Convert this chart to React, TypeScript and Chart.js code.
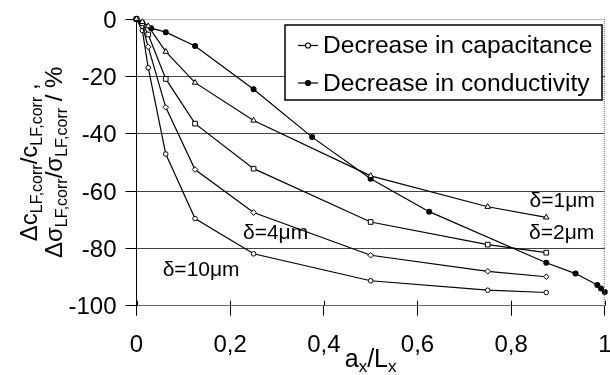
import React, { useEffect, useRef } from "react";
import { Chart, registerables } from "chart.js";

Chart.register(...registerables);

// ---- data ----
const CAP_X = [0, 0.0125, 0.025, 0.0625, 0.125, 0.25, 0.5, 0.75, 0.875];
const CAP_1UM = [0, -1, -2.5, -11.4, -22.2, -35.4, -54.7, -65.5, -69.2];
const CAP_2UM = [0, -1.5, -5.4, -20.9, -36.5, -52.2, -70.8, -78.7, -81.5];
const CAP_4UM = [0, -2.5, -9.7, -30.8, -52.5, -67.5, -82.4, -88, -89.9];
const CAP_10UM = [0, -4, -17, -47.1, -69.6, -81.9, -91.3, -94.6, -95.4];

const COND_X = [0, 0.03125, 0.0625, 0.125, 0.25, 0.375, 0.5, 0.625, 0.875, 0.9375, 0.984, 0.992, 1.0];
const COND_Y = [0, -3.2, -4.6, -9.4, -24.5, -41.2, -55.7, -67.2, -85, -88.8, -92.8, -94, -95.2];

const X_TICKS = [0, 0.2, 0.4, 0.6, 0.8, 1];
const X_TICK_LABELS = ["0", "0,2", "0,4", "0,6", "0,8", "1"];
const Y_TICKS = [0, -20, -40, -60, -80, -100];
const Y_TICK_LABELS = ["0", "-20", "-40", "-60", "-80", "-100"];

const LEGEND_LABELS = ["Decrease in capacitance", "Decrease in conductivity"];

const DELTA_LABELS = ["δ=1μm", "δ=2μm", "δ=4μm", "δ=10μm"];
const DELTA_LABEL_X = [0.909, 0.908, 0.297, 0.138];
const DELTA_LABEL_Y = [-63.5, -74.6, -74.6, -87.6];

const FONT = "'Liberation Sans', Arial, Helvetica, sans-serif";

type Seg = { t: string; sub?: boolean };

function segWidth(ctx: CanvasRenderingContext2D, segs: Seg[], size: number, subSize: number) {
  let w = 0;
  for (const s of segs) {
    ctx.font = `${s.sub ? subSize : size}px ${FONT}`;
    w += ctx.measureText(s.t).width;
  }
  return w;
}

function drawRich(ctx: CanvasRenderingContext2D, segs: Seg[], cx: number, baseline: number, size: number, subSize: number, subOff: number) {
  const w = segWidth(ctx, segs, size, subSize);
  let x = cx - w / 2;
  ctx.textAlign = "left";
  ctx.textBaseline = "alphabetic";
  for (const s of segs) {
    ctx.font = `${s.sub ? subSize : size}px ${FONT}`;
    ctx.fillText(s.t, x, baseline + (s.sub ? subOff : 0));
    x += ctx.measureText(s.t).width;
  }
}

const decorPlugin = {
  id: "decor",
  afterDatasetsDraw(chart: any) {
    const ctx: CanvasRenderingContext2D = chart.ctx;
    const { left, right, top, bottom } = chart.chartArea;
    const xs = chart.scales.x;
    const ys = chart.scales.y;
    ctx.save();

    // dotted top & right borders
    ctx.strokeStyle = "#777";
    ctx.lineWidth = 1;
    ctx.setLineDash([1, 1]);
    ctx.beginPath();
    ctx.moveTo(left, top + 0.5);
    ctx.lineTo(right, top + 0.5);
    ctx.moveTo(right - 0.5, top);
    ctx.lineTo(right - 0.5, bottom);
    ctx.stroke();
    ctx.setLineDash([]);

    // inner part of x ticks
    ctx.strokeStyle = "#000";
    ctx.beginPath();
    for (const v of X_TICKS) {
      const px = Math.round(xs.getPixelForValue(v)) + 0.5;
      ctx.moveTo(px, bottom - 5);
      ctx.lineTo(px, bottom);
    }
    ctx.stroke();

    // legend box
    const bx = 285, by = 25, bw = 317, bh = 75;
    ctx.fillStyle = "#fff";
    ctx.fillRect(bx, by, bw, bh);
    ctx.strokeStyle = "#000";
    ctx.lineWidth = 1.5;
    ctx.strokeRect(bx, by, bw, bh);
    const rows = [45.5, 83];
    ctx.lineWidth = 1.2;
    rows.forEach((ry, i) => {
      ctx.beginPath();
      ctx.moveTo(298, ry);
      ctx.lineTo(318, ry);
      ctx.stroke();
      ctx.beginPath();
      ctx.arc(308, ry, 2.5, 0, Math.PI * 2);
      ctx.fillStyle = i === 0 ? "#fff" : "#000";
      ctx.fill();
      ctx.stroke();
      ctx.fillStyle = "#000";
      ctx.font = `24.6px ${FONT}`;
      ctx.textAlign = "left";
      ctx.textBaseline = "middle";
      ctx.fillText(LEGEND_LABELS[i], 323, ry + 1);
    });

    // delta labels
    ctx.fillStyle = "#000";
    ctx.font = `21px ${FONT}`;
    ctx.textAlign = "center";
    ctx.textBaseline = "middle";
    DELTA_LABELS.forEach((t, i) => {
      ctx.fillText(t, xs.getPixelForValue(DELTA_LABEL_X[i]), ys.getPixelForValue(DELTA_LABEL_Y[i]));
    });

    // y title (two lines, rotated)
    const cy = (top + bottom) / 2;
    const line1: Seg[] = [
      { t: "Δc" }, { t: "LF,corr", sub: true }, { t: "/c" }, { t: "LF,corr", sub: true }, { t: " ," },
    ];
    const line2: Seg[] = [
      { t: "Δσ" }, { t: "LF,corr", sub: true }, { t: "/σ" }, { t: "LF,corr", sub: true }, { t: " / %" },
    ];
    ctx.save();
    ctx.translate(37, cy);
    ctx.rotate(-Math.PI / 2);
    drawRich(ctx, line1, 0, 0, 24, 16, 5);
    ctx.restore();
    ctx.save();
    ctx.translate(62, cy);
    ctx.rotate(-Math.PI / 2);
    drawRich(ctx, line2, 0, 0, 24, 16, 5);
    ctx.restore();

    // x title
    const xt: Seg[] = [{ t: "a" }, { t: "x", sub: true }, { t: "/L" }, { t: "x", sub: true }];
    drawRich(ctx, xt, (left + right) / 2, 367, 25, 17, 5);

    ctx.restore();
  },
};

function capSet(label: string, ys: number[], style: string, r: number) {
  return {
    label,
    data: CAP_X.map((x, i) => ({ x, y: ys[i] })),
    borderColor: "#000",
    borderWidth: 1.2,
    pointStyle: style,
    pointRadius: r,
    pointBackgroundColor: "#fff",
    pointBorderColor: "#000",
    pointBorderWidth: 1,
    showLine: true,
    clip: false,
  };
}

export default function App() {
  const ref = useRef<HTMLCanvasElement>(null);
  useEffect(() => {
    if (!ref.current) return;
    const chart = new Chart(ref.current, {
      type: "scatter",
      data: {
        datasets: [
          capSet("δ=1μm", CAP_1UM, "triangle", 3.2),
          capSet("δ=2μm", CAP_2UM, "rect", 3.3),
          capSet("δ=4μm", CAP_4UM, "rectRot", 2.8),
          capSet("δ=10μm", CAP_10UM, "circle", 2.3),
          {
            label: "conductivity",
            data: COND_X.map((x, i) => ({ x, y: COND_Y[i] })),
            borderColor: "#000",
            borderWidth: 1.2,
            pointStyle: "circle",
            pointRadius: 2.4,
            pointBackgroundColor: "#000",
            pointBorderColor: "#000",
            showLine: true,
            clip: false,
          } as any,
        ],
      },
      options: {
        animation: false,
        responsive: false,
        devicePixelRatio: 1,
        layout: { padding: { top: 19, right: 1, left: 0, bottom: 0 } },
        plugins: { legend: { display: false }, tooltip: { enabled: false } },
        elements: { line: { tension: 0 } },
        scales: {
          x: {
            type: "linear",
            min: 0,
            max: 1,
            afterBuildTicks: (s: any) => { s.ticks = X_TICKS.map((v) => ({ value: v })); },
            afterFit: (s: any) => { s.height = 69.3; s.paddingLeft = 0; s.paddingRight = 0; },
            ticks: {
              color: "#000",
              font: { family: FONT, size: 24 },
              padding: 15,
              maxRotation: 0,
              autoSkip: false,
              callback: (v: any) => {
                const i = X_TICKS.findIndex((t) => Math.abs(t - Number(v)) < 1e-6);
                return i >= 0 ? X_TICK_LABELS[i] : "";
              },
            },
            grid: { drawOnChartArea: false, tickLength: 10, tickColor: "#000" },
            border: { display: true, color: "#666", width: 1 },
          },
          y: {
            type: "linear",
            min: -100,
            max: 0,
            afterBuildTicks: (s: any) => { s.ticks = Y_TICKS.map((v) => ({ value: v })); },
            afterFit: (s: any) => { s.width = 136.5; s.paddingTop = 0; s.paddingBottom = 0; },
            ticks: {
              color: "#000",
              font: { family: FONT, size: 24 },
              padding: 9,
              labelOffset: 2,
              autoSkip: false,
              callback: (v: any) => {
                const i = Y_TICKS.findIndex((t) => Math.abs(t - Number(v)) < 1e-6);
                return i >= 0 ? Y_TICK_LABELS[i] : "";
              },
            },
            grid: {
              color: (c: any) => (c.tick && (c.tick.value === 0 || c.tick.value === -100) ? "rgba(0,0,0,0)" : "#444"),
              tickColor: "#000",
              tickLength: 11,
              lineWidth: 1,
            },
            border: { display: true, color: "#000", width: 1 },
          },
        },
      },
      plugins: [decorPlugin],
    } as any);
    return () => chart.destroy();
  }, []);
  return (
    <div style={{ position: "fixed", left: 0, top: 0, width: 610, height: 375, background: "#fff" }}>
      <canvas ref={ref} width={610} height={375} />
    </div>
  );
}
